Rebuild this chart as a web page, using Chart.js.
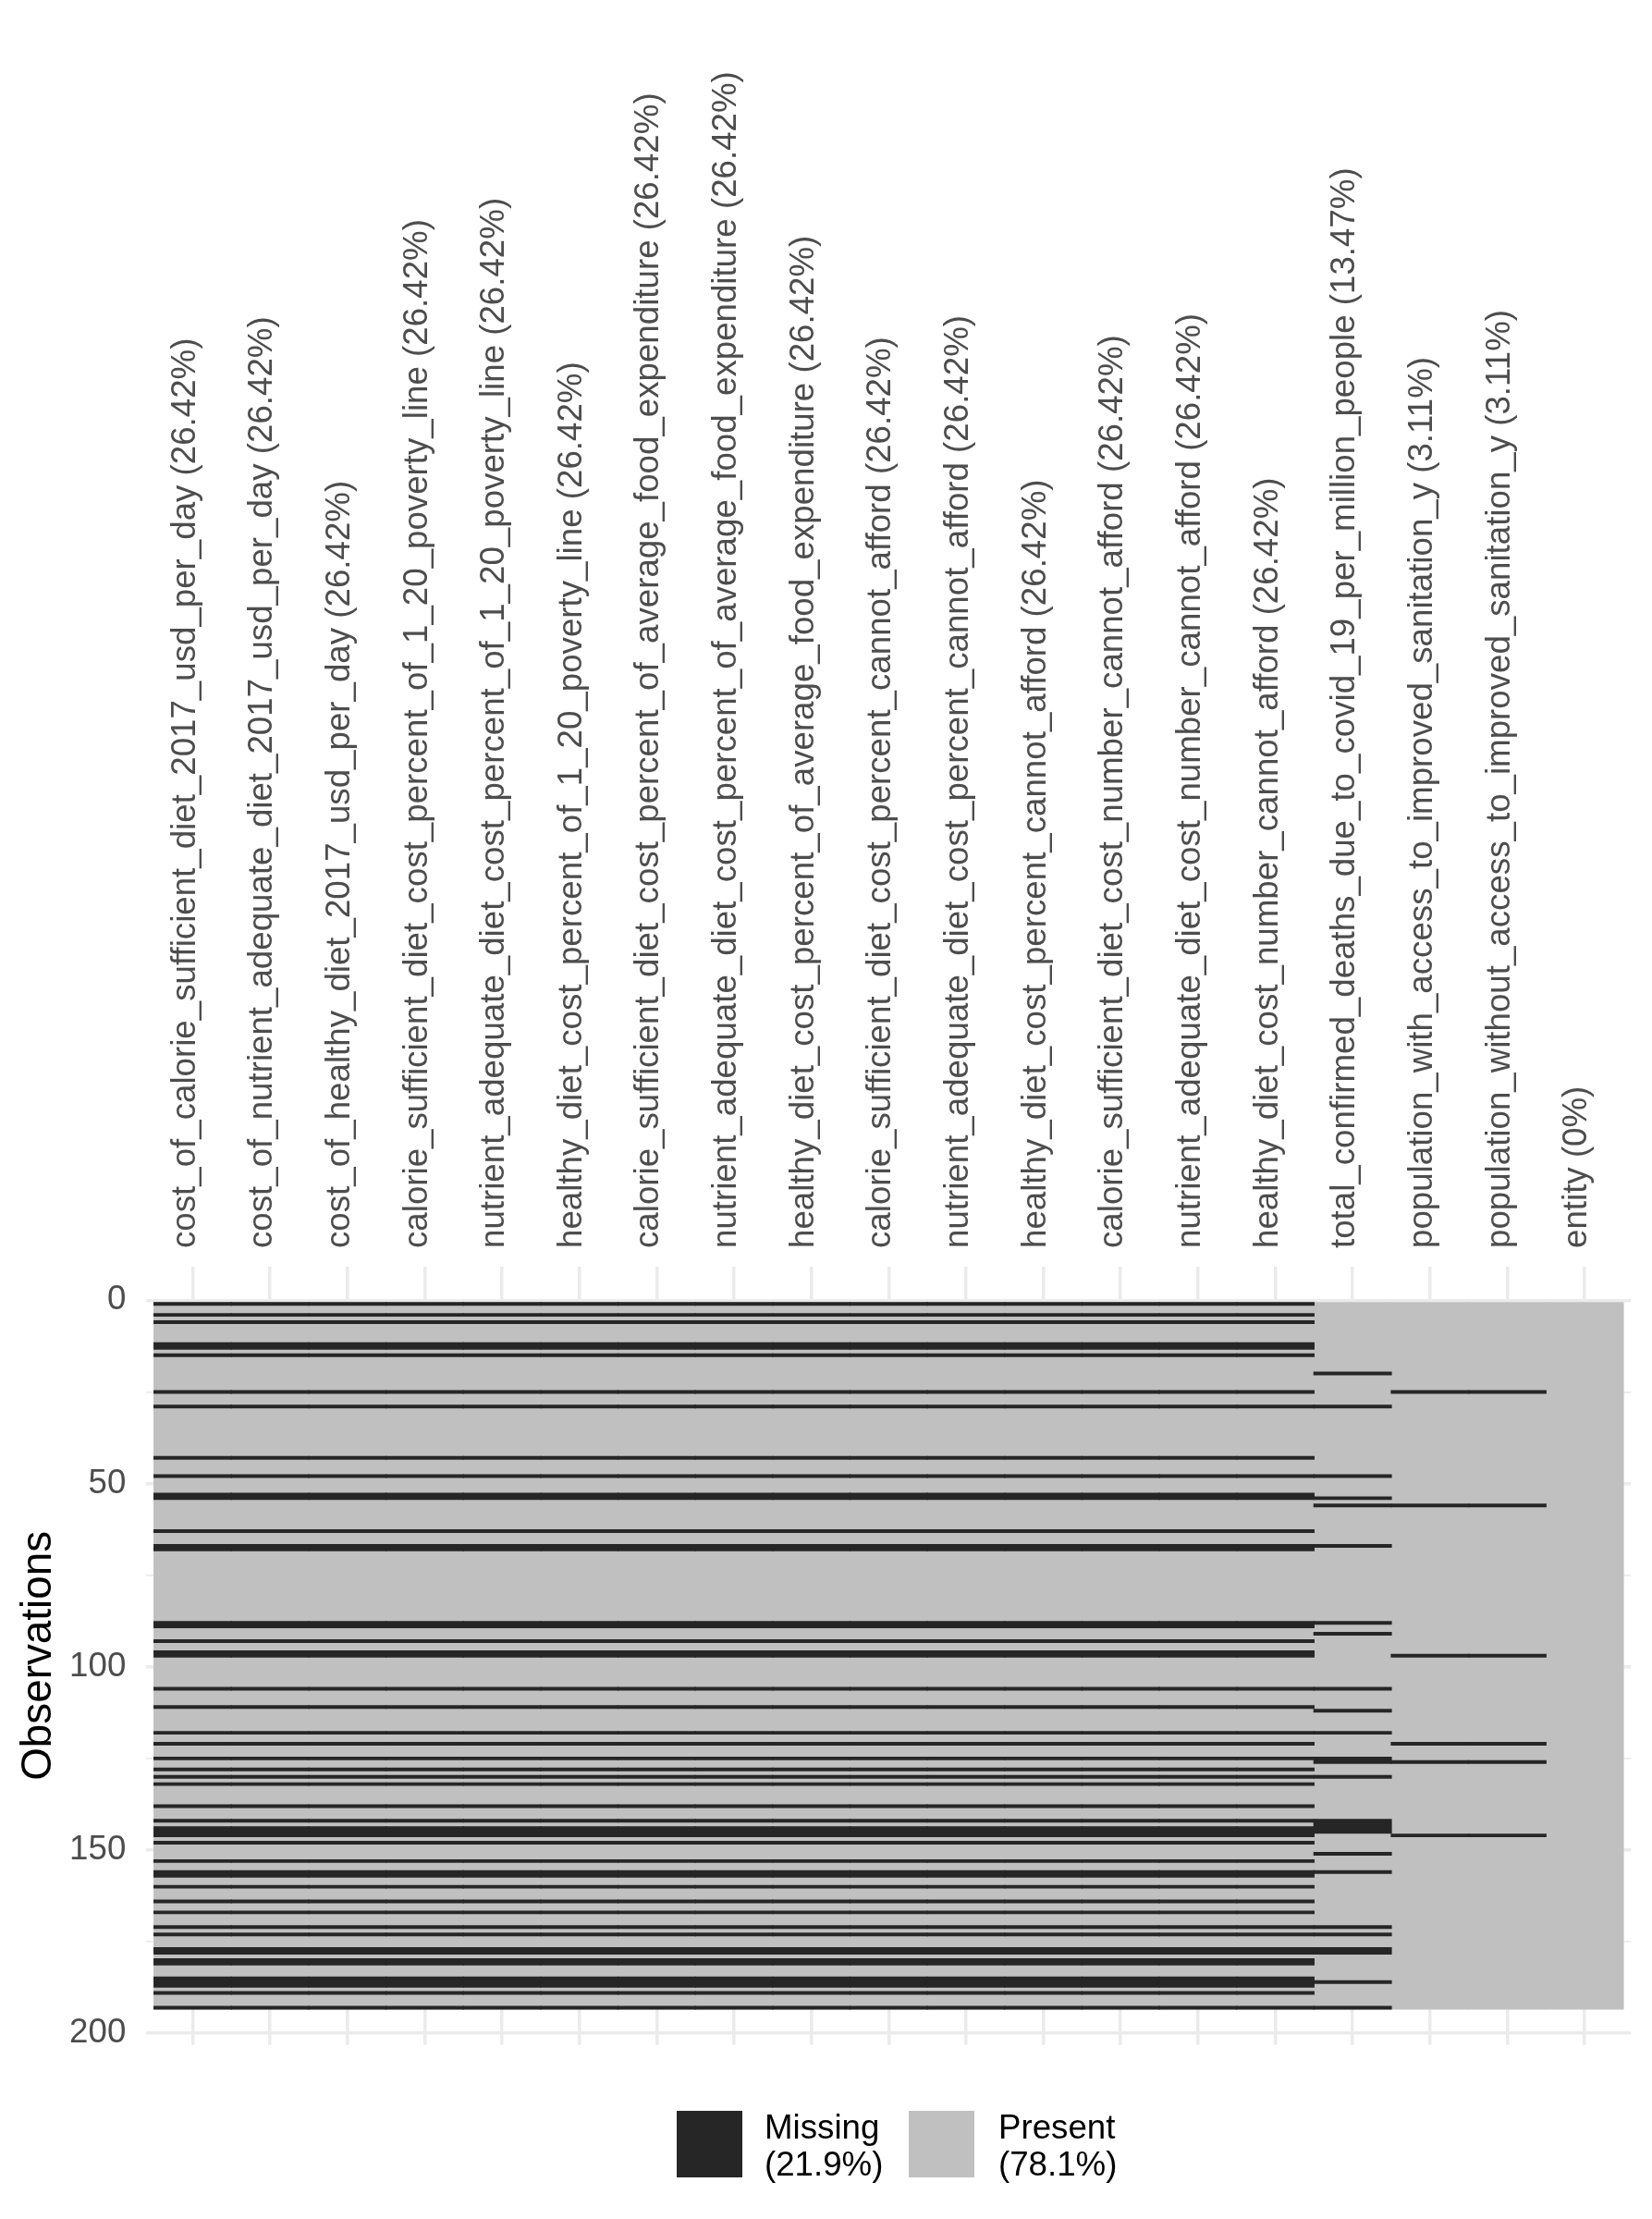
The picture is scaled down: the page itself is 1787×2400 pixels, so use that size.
<!DOCTYPE html>
<html><head><meta charset="utf-8">
<script src="https://cdn.jsdelivr.net/npm/chart.js@4/dist/chart.umd.min.js"></script>
<style>
html,body{margin:0;padding:0;background:#fff;}
#wrap{position:relative;width:1787px;height:2400px;overflow:hidden;}
#c{position:absolute;left:0;top:0;}
.leg{position:absolute;font-family:"Liberation Sans",Arial,sans-serif;font-size:36.7px;color:#000;line-height:40px;white-space:nowrap;}
.sw{position:absolute;width:71px;height:72px;}
</style></head><body>
<div id="wrap"><canvas id="c" width="1787" height="2400"></canvas><div id="legend"></div></div>
<script>
// ---- data ----
const variableNames = [
  'cost_of_calorie_sufficient_diet_2017_usd_per_day',
  'cost_of_nutrient_adequate_diet_2017_usd_per_day',
  'cost_of_healthy_diet_2017_usd_per_day',
  'calorie_sufficient_diet_cost_percent_of_1_20_poverty_line',
  'nutrient_adequate_diet_cost_percent_of_1_20_poverty_line',
  'healthy_diet_cost_percent_of_1_20_poverty_line',
  'calorie_sufficient_diet_cost_percent_of_average_food_expenditure',
  'nutrient_adequate_diet_cost_percent_of_average_food_expenditure',
  'healthy_diet_cost_percent_of_average_food_expenditure',
  'calorie_sufficient_diet_cost_percent_cannot_afford',
  'nutrient_adequate_diet_cost_percent_cannot_afford',
  'healthy_diet_cost_percent_cannot_afford',
  'calorie_sufficient_diet_cost_number_cannot_afford',
  'nutrient_adequate_diet_cost_number_cannot_afford',
  'healthy_diet_cost_number_cannot_afford',
  'total_confirmed_deaths_due_to_covid_19_per_million_people',
  'population_with_access_to_improved_sanitation_y',
  'population_without_access_to_improved_sanitation_y',
  'entity'
];
const missingPercent = [26.42,26.42,26.42,26.42,26.42,26.42,26.42,26.42,26.42,26.42,26.42,26.42,26.42,26.42,26.42,13.47,3.11,3.11,0];
const nObservations = 193;
// rows (1-based) missing in the 15 diet-cost columns
const dietMissingRows = [1,4,6,12,13,15,25,29,43,48,53,54,63,67,68,88,89,93,96,97,106,111,118,121,125,128,130,132,138,142,144,145,146,148,153,156,157,160,164,167,171,173,177,178,180,181,185,186,187,189,193];
// rows missing in the covid deaths column
const covidMissingRows = [20,29,48,54,56,67,88,91,106,112,118,125,126,130,142,143,144,145,151,156,171,173,177,178,186,193];
// rows missing in the two sanitation columns
const sanitationMissingRows = [25,56,97,121,126,146];
// which row list belongs to which column
const columnMissingGroup = ['diet','diet','diet','diet','diet','diet','diet','diet','diet','diet','diet','diet','diet','diet','diet','covid','sanitation','sanitation','none'];
const yLabelTicks = [0,50,100,150,200];
const yMinorTicks = [25,75,125,175];
const legendLabels = ['Missing','Present'];
const legendPercent = [21.9, 78.1];
const tileColors = ['#262626','#C0C0C0'];

// ---- build ----
const groupRows = {diet: dietMissingRows, covid: covidMissingRows, sanitation: sanitationMissingRows, none: []};
const axisLabels = variableNames.map((n,i)=> n + ' (' + missingPercent[i] + '%)');
function toRuns(rows){
  const out=[]; let s=null,p=null;
  for(const r of rows){
    if(s!==null && r===p+1){p=r;}
    else { if(s!==null) out.push([s,p]); s=r; p=r; }
  }
  if(s!==null) out.push([s,p]);
  return out;
}
const missingData=[];
columnMissingGroup.forEach((g,i)=>{
  toRuns(groupRows[g]).forEach(([a,b])=> missingData.push({x:i+1, y:[a-0.5, b+0.5]}));
});
const presentData = variableNames.map((_,i)=>({x:i+1, y:[0.5, nObservations+0.5]}));

const FONT = "'Liberation Sans', Arial, Helvetica, sans-serif";
const yGridValues = yLabelTicks.concat(yMinorTicks).sort((a,b)=>a-b);

new Chart(document.getElementById('c'), {
  type:'bar',
  data:{datasets:[
    {label:legendLabels[0], data:missingData, backgroundColor:tileColors[0], borderWidth:0, barPercentage:1.015, categoryPercentage:1, grouped:false, order:1},
    {label:legendLabels[1], data:presentData, backgroundColor:tileColors[1], borderWidth:0, barPercentage:1.015, categoryPercentage:1, grouped:false, order:2}
  ]},
  options:{
    responsive:false, animation:false, devicePixelRatio:1,
    layout:{padding:{top:0,left:0,right:22.7,bottom:188.3}},
    plugins:{legend:{display:false}, tooltip:{enabled:false}},
    scales:{
      x:{
        type:'linear', position:'top', min:0.4, max:19.6, offset:false,
        afterBuildTicks:s=>{ s.ticks = variableNames.map((_,i)=>({value:i+1})); },
        afterFit:s=>{ s.height = 1370; },
        ticks:{autoSkip:false, minRotation:90, maxRotation:90, padding:20, labelOffset:36, color:'#4D4D4D',
          font:{family:FONT, size:36.7}, callback:(v)=> axisLabels[Math.round(v)-1] },
        grid:{color:'#EBEBEB', lineWidth:3.5, drawTicks:false, offset:false},
        border:{display:false}
      },
      y:{
        type:'linear', reverse:true, min:-9.15, max:203.15,
        afterBuildTicks:s=>{ s.ticks = yGridValues.map(v=>({value:v})); },
        afterFit:s=>{ s.width = 158.3; },
        ticks:{padding:22, color:'#4D4D4D', font:{family:FONT, size:36.7},
          callback:(v)=> yLabelTicks.includes(v) ? String(v) : '' },
        grid:{color:'#EBEBEB', lineWidth:(c)=> (c.tick && yLabelTicks.includes(c.tick.value)) ? 3.5 : 1.75, drawTicks:false},
        border:{display:false},
        title:{display:true, text:'Observations', color:'#000', font:{family:FONT, size:45.8}, padding:{top:15,bottom:0}}
      }
    }
  }
});

// legend (HTML text)
const legendPos = [{sx:732, tx:827},{sx:983, tx:1080}];
const lg = document.getElementById('legend');
legendLabels.forEach((lab,i)=>{
  const sw=document.createElement('div'); sw.className='sw';
  sw.style.left=legendPos[i].sx+'px'; sw.style.top='2283px'; sw.style.background=tileColors[i];
  lg.appendChild(sw);
  const t=document.createElement('div'); t.className='leg';
  t.style.left=legendPos[i].tx+'px'; t.style.top='2281px';
  t.innerHTML = lab + '<br>(' + legendPercent[i] + '%)';
  lg.appendChild(t);
});
</script>
</body></html>
